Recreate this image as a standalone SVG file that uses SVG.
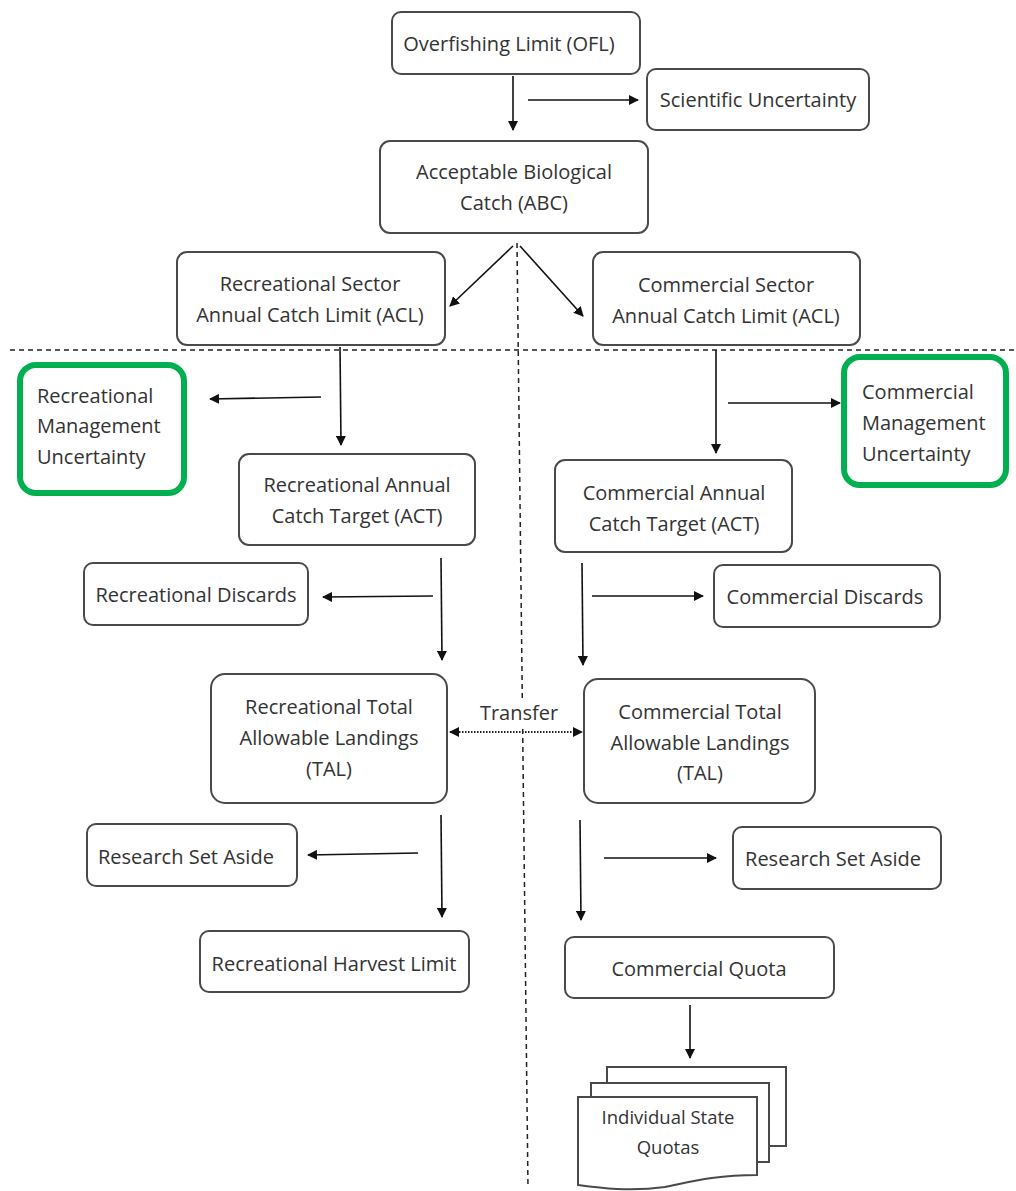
<svg xmlns="http://www.w3.org/2000/svg" width="1016" height="1191" viewBox="0 0 1016 1191">
<defs>
<marker id="ah" viewBox="0 0 10 10" refX="9" refY="5" markerWidth="10" markerHeight="10" markerUnits="userSpaceOnUse" orient="auto-start-reverse">
<path d="M0,0 L10,5 L0,10 z" fill="#111"/>
</marker>
<style>
.b{fill:#fff;stroke:#4a4a4a;stroke-width:2}
.g{fill:#fff;stroke:#00B050;stroke-width:6}
.t{font-family:"Open Sans","Liberation Sans",sans-serif;font-size:20px;fill:#333;text-anchor:middle}
.l{text-anchor:start}
.c{stroke:#111;stroke-width:1.6;fill:none}
.a{marker-end:url(#ah)}
.d{stroke:#222;stroke-width:1.5;stroke-dasharray:5,4;fill:none}
</style>
</defs>
<rect width="1016" height="1191" fill="#fff"/>
<g id="dividers">
<line class="d" x1="10" y1="350" x2="1016" y2="350"/>
<line class="d" x1="517" y1="243" x2="528" y2="1188"/>
</g>
<g id="connectors">
<line class="c a" x1="513" y1="76" x2="513" y2="130"/>
<line class="c a" x1="528" y1="100" x2="638" y2="100"/>
<line class="c a" x1="513" y1="246" x2="450" y2="306"/>
<line class="c a" x1="520" y1="246" x2="583" y2="316"/>
<line class="c a" x1="340" y1="347" x2="341" y2="445"/>
<line class="c a" x1="321" y1="397" x2="210" y2="399"/>
<line class="c a" x1="716" y1="350" x2="716" y2="453"/>
<line class="c a" x1="728" y1="403" x2="840" y2="403"/>
<line class="c a" x1="441" y1="558" x2="442" y2="660"/>
<line class="c a" x1="433" y1="596" x2="323" y2="597"/>
<line class="c a" x1="582" y1="563" x2="583" y2="665"/>
<line class="c a" x1="592" y1="596" x2="703" y2="596"/>
<rect x="476" y="698" width="88" height="28" fill="#fff"/>
<line x1="450" y1="732" x2="582" y2="732" stroke="#222" stroke-width="2" stroke-dasharray="1.5,1.5" marker-start="url(#ah)" marker-end="url(#ah)"/>
<text class="t" x="519" y="720">Transfer</text>
<line class="c a" x1="441" y1="815" x2="442" y2="917"/>
<line class="c a" x1="418" y1="853" x2="308" y2="855"/>
<line class="c a" x1="580" y1="820" x2="581" y2="920"/>
<line class="c a" x1="604" y1="858" x2="716" y2="858"/>
<line class="c a" x1="690" y1="1005" x2="690" y2="1058"/>
</g>
<g id="ofl"><rect class="b" x="392" y="12" width="248" height="62" rx="9"/><text class="t" x="509" y="51">Overfishing Limit (OFL)</text></g>
<g id="sci"><rect class="b" x="647" y="69" width="222" height="61" rx="9"/><text class="t" x="758" y="107">Scientific Uncertainty</text></g>
<g id="abc"><rect class="b" x="380" y="141" width="268" height="92" rx="10"/><text class="t" x="514" y="179">Acceptable Biological</text><text class="t" x="514" y="210">Catch (ABC)</text></g>
<g id="recacl"><rect class="b" x="177" y="252" width="268" height="93" rx="10"/><text class="t" x="310" y="291">Recreational Sector</text><text class="t" x="310" y="322">Annual Catch Limit (ACL)</text></g>
<g id="comacl"><rect class="b" x="593" y="252" width="267" height="93" rx="10"/><text class="t" x="726" y="292">Commercial Sector</text><text class="t" x="726" y="323">Annual Catch Limit (ACL)</text></g>
<g id="recmu"><rect class="g" x="20" y="365" width="164" height="128" rx="16"/><text class="t l" x="37" y="403">Recreational</text><text class="t l" x="37" y="433">Management</text><text class="t l" x="37" y="464">Uncertainty</text></g>
<g id="commu"><rect class="g" x="844" y="357" width="162" height="128" rx="16"/><text class="t l" x="862" y="399">Commercial</text><text class="t l" x="862" y="430">Management</text><text class="t l" x="862" y="461">Uncertainty</text></g>
<g id="recact"><rect class="b" x="239" y="454" width="236" height="91" rx="10"/><text class="t" x="357" y="492">Recreational Annual</text><text class="t" x="357" y="523">Catch Target (ACT)</text></g>
<g id="comact"><rect class="b" x="555" y="460" width="237" height="92" rx="10"/><text class="t" x="674" y="500">Commercial Annual</text><text class="t" x="674" y="531">Catch Target (ACT)</text></g>
<g id="recdis"><rect class="b" x="84" y="563" width="224" height="62" rx="9"/><text class="t" x="196" y="602">Recreational Discards</text></g>
<g id="comdis"><rect class="b" x="714" y="565" width="226" height="62" rx="9"/><text class="t" x="825" y="604">Commercial Discards</text></g>
<g id="rectal"><rect class="b" x="211" y="674" width="236" height="129" rx="14"/><text class="t" x="329" y="714">Recreational Total</text><text class="t" x="329" y="745">Allowable Landings</text><text class="t" x="329" y="776">(TAL)</text></g>
<g id="comtal"><rect class="b" x="584" y="679" width="231" height="124" rx="14"/><text class="t" x="700" y="719">Commercial Total</text><text class="t" x="700" y="750">Allowable Landings</text><text class="t" x="700" y="780">(TAL)</text></g>
<g id="recrsa"><rect class="b" x="87" y="824" width="210" height="62" rx="9"/><text class="t l" x="98" y="864">Research Set Aside</text></g>
<g id="comrsa"><rect class="b" x="733" y="827" width="208" height="62" rx="9"/><text class="t" x="833" y="866">Research Set Aside</text></g>
<g id="rechl"><rect class="b" x="200" y="931" width="269" height="61" rx="9"/><text class="t" x="334" y="971">Recreational Harvest Limit</text></g>
<g id="cquota"><rect class="b" x="565" y="937" width="269" height="61" rx="9"/><text class="t" x="699" y="976">Commercial Quota</text></g>
<g id="isq">
<rect class="b" x="607" y="1067" width="179" height="79"/>
<rect class="b" x="591" y="1083" width="178" height="79"/>
<path class="b" d="M578,1097 H757 V1175 C715,1175 690,1182 665,1187 C630,1192 600,1188 578,1185 Z"/>
<text class="t" x="668" y="1124" style="font-size:18.5px">Individual State</text>
<text class="t" x="668" y="1154" style="font-size:18.5px">Quotas</text>
</g>
</svg>
